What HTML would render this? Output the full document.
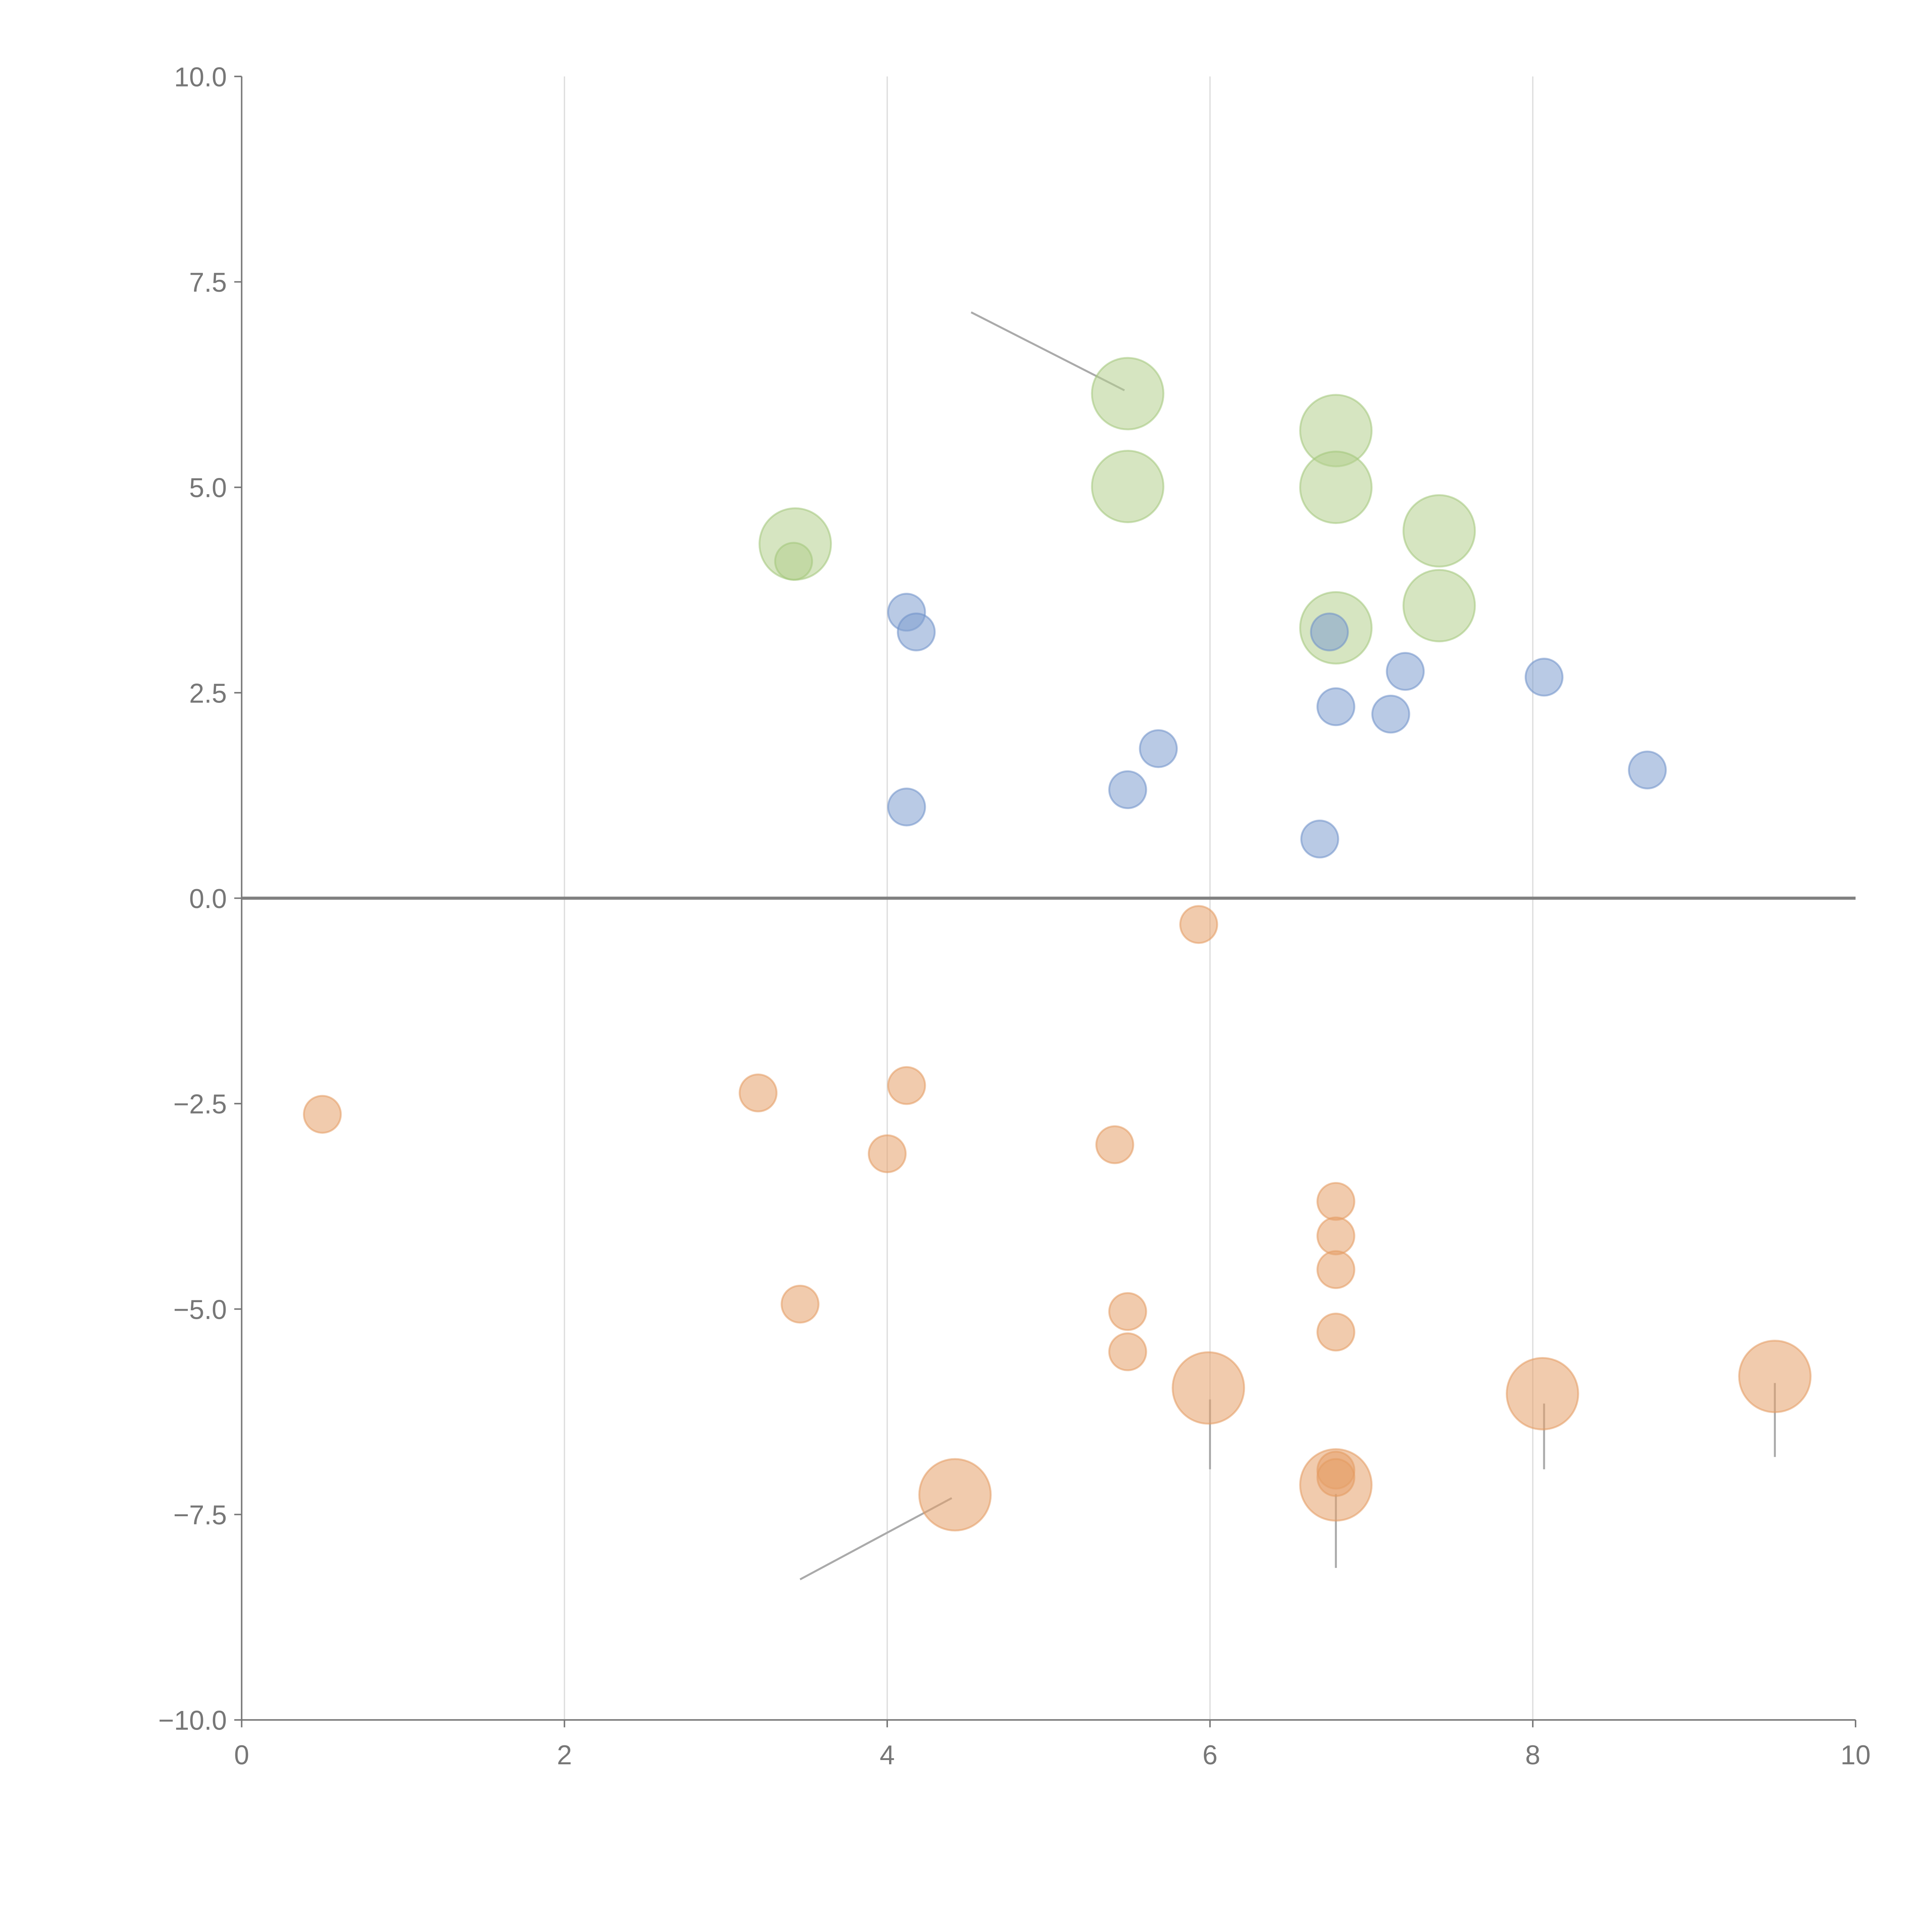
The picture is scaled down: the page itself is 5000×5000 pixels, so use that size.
<!DOCTYPE html>
<html><head><meta charset="utf-8"><style>html,body{margin:0;padding:0;background:#fff}svg{display:block}</style></head>
<body>
<svg id="chart" width="5000" height="5000" viewBox="0 0 1567 1567" xmlns="http://www.w3.org/2000/svg" font-family="Liberation Sans, sans-serif">
<g id="grid"></g>
<g id="axes"></g>
<g id="leaders"></g>
<g id="marks"></g>
</svg>
<script>
const xTicks = [0, 2, 4, 6, 8, 10];
const yTicks = [-10, -7.5, -5, -2.5, 0, 2.5, 5, 7.5, 10];
const yTickLabels = ["\u221210.0", "\u22127.5", "\u22125.0", "\u22122.5", "0.0", "2.5", "5.0", "7.5", "10.0"];
const blueX = [4.12, 4.18, 4.12, 5.49, 5.68, 6.68, 6.74, 6.78, 7.12, 7.21, 8.07, 8.71];
const blueY = [3.48, 3.24, 1.11, 1.32, 1.82, 0.72, 3.24, 2.33, 2.24, 2.76, 2.69, 1.56];
const greenX = [5.49, 5.49, 6.78, 6.78, 7.42, 7.42, 6.78, 3.43, 3.42];
const greenY = [6.14, 5.01, 5.69, 5.0, 4.47, 3.56, 3.29, 4.31, 4.10];
const greenSize = [2, 2, 2, 2, 2, 2, 2, 2, 1];
const orangeX = [5.93, 0.5, 3.2, 4.12, 4.0, 5.41, 3.46, 5.49, 5.49, 6.78, 6.78, 6.78, 6.78, 5.99, 8.06, 9.5, 4.42, 6.78, 6.78, 6.78];
const orangeY = [-0.32, -2.63, -2.37, -2.28, -3.11, -3.0, -4.94, -5.03, -5.52, -3.69, -4.11, -4.52, -5.28, -5.96, -6.03, -5.82, -7.26, -7.14, -6.96, -7.05];
const orangeSize = [1,1,1,1,1,1,1,1,1,1,1,1,1,2,2,2,2,2,1,1];
const leaderX1 = [4.52, 3.46, 6.0, 8.07, 9.5, 6.78];
const leaderY1 = [7.13, -8.29, -6.1, -6.15, -5.9, -7.25];
const leaderX2 = [5.47, 4.4, 6.0, 8.07, 9.5, 6.78];
const leaderY2 = [6.18, -7.3, -6.95, -6.95, -6.8, -8.15];

const X0 = 196, X1 = 1505, Y0 = 1395, Y1 = 62;
const sx = v => X0 + (v - 0) / 10 * (X1 - X0);
const sy = v => Y0 - (v + 10) / 20 * (Y0 - Y1);
const NS = "http://www.w3.org/2000/svg";
function mk(tag, attrs, parent) {
  const e = document.createElementNS(NS, tag);
  for (const k in attrs) e.setAttribute(k, attrs[k]);
  parent.appendChild(e);
  return e;
}
const grid = document.getElementById('grid');
const axes = document.getElementById('axes');
const leaders = document.getElementById('leaders');
const marks = document.getElementById('marks');

xTicks.forEach(t => {
  if (t > 0 && t < 10) {
    const g = mk('line', {x1: sx(t), x2: sx(t), y1: Y1, y2: Y0, stroke: '#dcdcdc', 'stroke-width': 1}, grid);
    
    
  }
  const tk = mk('line', {x1: sx(t), x2: sx(t), y1: Y0, y2: Y0 + 6, stroke: '#777', 'stroke-width': 1.2}, axes);
  
  
  const lb = mk('text', {x: sx(t), y: Y0 + 36, 'text-anchor': 'middle', 'font-size': 22, fill: '#777'}, axes);
  lb.textContent = t;
  
  
});
yTicks.forEach((t, i) => {
  const tk = mk('line', {x1: X0 - 6, x2: X0, y1: sy(t), y2: sy(t), stroke: '#777', 'stroke-width': 1.2}, axes);
  
  
  const lb = mk('text', {x: X0 - 12, y: sy(t) + 8, 'text-anchor': 'end', 'font-size': 22, fill: '#777'}, axes);
  lb.textContent = yTickLabels[i];
  
  
});
const xa = mk('line', {x1: X0, x2: X1, y1: Y0, y2: Y0, stroke: '#777', 'stroke-width': 1.2}, axes);


const ya = mk('line', {x1: X0, x2: X0, y1: Y1, y2: Y0, stroke: '#777', 'stroke-width': 1.2}, axes);


const zl = mk('line', {x1: X0, x2: X1, y1: sy(0), y2: sy(0), stroke: '#808080', 'stroke-width': 2.5}, axes);



leaderX1.forEach((v, i) => {
  const l = mk('line', {x1: sx(v), y1: sy(leaderY1[i]), x2: sx(leaderX2[i]), y2: sy(leaderY2[i]), stroke: '#aaa', 'stroke-width': 1.6}, leaders);
  
  
});

const R = [0, 15, 29];
function drawSeries(xs, ys, sizes, fill, stroke, name) {
  xs.forEach((v, i) => {
    const c = mk('circle', {cx: sx(v), cy: sy(ys[i]), r: R[sizes ? sizes[i] : 1], fill: fill, 'fill-opacity': 0.55, stroke: stroke, 'stroke-opacity': 0.55, 'stroke-width': 1.5}, marks);
    
    
  });
}
drawSeries(greenX, greenY, greenSize, '#b5d08e', '#a3c67a', 'green-bubble');
drawSeries(blueX, blueY, null, '#7f9fd0', '#6d8fc9', 'blue-bubble');
drawSeries(orangeX, orangeY, orangeSize, '#e6a06a', '#e39a60', 'orange-bubble');
</script>
</body></html>
